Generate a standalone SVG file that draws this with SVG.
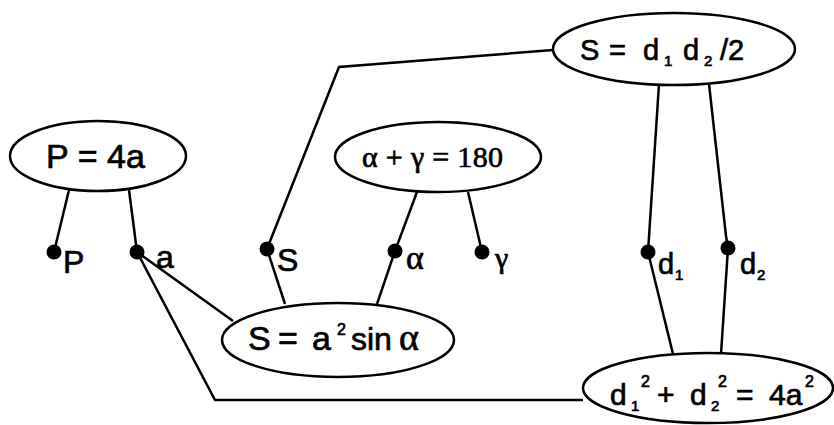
<svg xmlns="http://www.w3.org/2000/svg" width="834" height="425" viewBox="0 0 834 425">
<style>
.e{fill:#fff;stroke:#000;stroke-width:2.5}
.c{fill:none;stroke:#000;stroke-width:2.5;stroke-linejoin:miter}
.d{fill:#000}
.t{font-family:"Liberation Sans",Arial,sans-serif;fill:#000;stroke:#000;stroke-width:0.7}
.g{font-family:"Liberation Serif","Times New Roman",serif;fill:#000;stroke:#000;stroke-width:0.7}
</style>
<rect width="834" height="425" fill="#fff"/>
<g id="connectors">
<line class="c" x1="69" y1="190" x2="54" y2="252"/>
<line class="c" x1="129" y1="190" x2="137" y2="252"/>
<line class="c" x1="137" y1="252" x2="233" y2="321"/>
<polyline class="c" points="137,252 215,400 583,400"/>
<polyline class="c" points="267,249 339,67 553,50"/>
<line class="c" x1="267" y1="249" x2="285" y2="304"/>
<line class="c" x1="417" y1="192" x2="395" y2="251"/>
<line class="c" x1="395" y1="251" x2="377" y2="304"/>
<line class="c" x1="468" y1="192" x2="482" y2="252"/>
<line class="c" x1="659" y1="84" x2="648" y2="252"/>
<line class="c" x1="648" y1="252" x2="673" y2="354"/>
<polyline class="c" points="709,84 726,236 728,248"/>
<line class="c" x1="728" y1="248" x2="721" y2="354"/>
</g>
<g id="node-P4a">
<ellipse class="e" cx="98" cy="156" rx="88" ry="35"/>
<text class="t" x="46" y="168" font-size="34" textLength="99">P = 4a</text>
</g>
<g id="node-alpha-gamma">
<ellipse class="e" cx="438" cy="157" rx="103" ry="35"/>
<text class="g" x="362" y="167" font-size="30" textLength="141">α + γ = 180</text>
</g>
<g id="node-S-d1d2">
<ellipse class="e" cx="674" cy="49" rx="121" ry="36"/>
<text class="t" font-size="29"><tspan x="580" y="60">S</tspan><tspan x="609" y="60">=</tspan><tspan x="643" y="60">d</tspan><tspan x="664" y="66" font-size="15">1</tspan><tspan x="683" y="60">d</tspan><tspan x="704" y="66" font-size="15">2</tspan><tspan x="720" y="60">/2</tspan></text>
</g>
<g id="node-S-a2sin">
<ellipse class="e" cx="338" cy="340" rx="116" ry="37"/>
<text class="t" font-size="34"><tspan x="248" y="350">S</tspan><tspan x="278" y="350">=</tspan><tspan x="312" y="350">a</tspan><tspan x="337" y="335" font-size="16">2</tspan><tspan x="351" y="350" font-size="32">sin</tspan><tspan class="g" x="399" y="350" font-size="38">α</tspan></text>
</g>
<g id="node-d1d2-4a2">
<ellipse class="e" cx="708" cy="388" rx="125" ry="35"/>
<text class="t" font-size="30"><tspan x="610" y="405">d</tspan><tspan x="631" y="411" font-size="15">1</tspan><tspan x="641" y="387" font-size="16">2</tspan><tspan x="657" y="405">+</tspan><tspan x="690" y="405">d</tspan><tspan x="711" y="411" font-size="15">2</tspan><tspan x="718" y="387" font-size="16">2</tspan><tspan x="736" y="405">=</tspan><tspan x="769" y="405">4a</tspan><tspan x="805" y="387" font-size="16">2</tspan></text>
</g>
<g id="var-P"><circle class="d" cx="54" cy="252" r="7.5"/><text class="t" x="63" y="273" font-size="32">P</text></g>
<g id="var-a"><circle class="d" cx="137" cy="252" r="7.5"/><text class="t" x="156" y="268" font-size="32">a</text></g>
<g id="var-S"><circle class="d" cx="267" cy="249" r="7.5"/><text class="t" x="277" y="271" font-size="32">S</text></g>
<g id="var-alpha"><circle class="d" cx="395" cy="251" r="7.5"/><text class="g" x="406" y="269" font-size="34">α</text></g>
<g id="var-gamma"><circle class="d" cx="482" cy="252" r="7.5"/><text class="g" x="495" y="268" font-size="30">γ</text></g>
<g id="var-d1"><circle class="d" cx="648" cy="252" r="7.5"/><text class="t" font-size="29"><tspan x="658" y="274">d</tspan><tspan x="675" y="280" font-size="15">1</tspan></text></g>
<g id="var-d2"><circle class="d" cx="728" cy="248" r="7.5"/><text class="t" font-size="29"><tspan x="740" y="274">d</tspan><tspan x="757" y="280" font-size="15">2</tspan></text></g>
</svg>
